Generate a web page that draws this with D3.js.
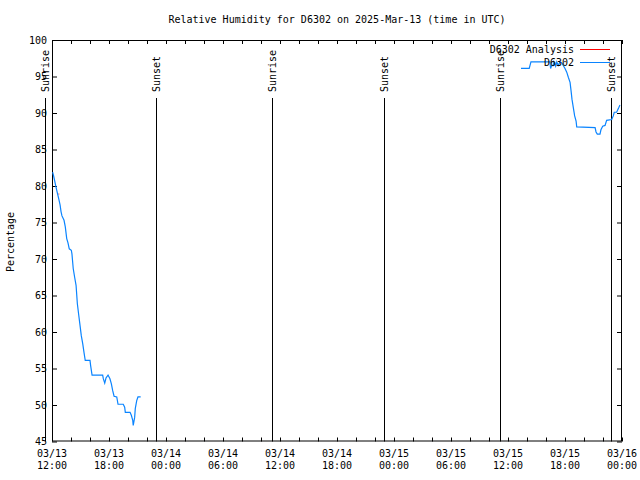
<!DOCTYPE html>
<html><head><meta charset="utf-8">
<script src="https://cdn.jsdelivr.net/npm/d3@7"></script>
<style>body{margin:0;background:#fff}svg{display:block}text{font-family:"DejaVu Sans Mono",monospace;font-size:10px;fill:#000}</style>
</head><body><svg id="c" width="640" height="480"></svg>
<script>
const titleText = "Relative Humidity for D6302 on 2025-Mar-13 (time in UTC)";
const yLabel = "Percentage";
const xDomain = ["2025-03-13T12:00Z", "2025-03-16T00:00Z"];
const yDomain = [45, 100];
const yTicks = [45,50,55,60,65,70,75,80,85,90,95,100];
const seriesNames = ["D6302 Analysis", "D6302"];
const seriesColors = ["#ff0000", "#0a84ff"];
// observed D6302 (null = gap)
const obsTimes = [
"03-13T12:04","03-13T12:11","03-13T12:23","03-13T12:30","03-13T12:42","03-13T12:51","03-13T12:57","03-13T13:03",
"03-13T13:16","03-13T13:24","03-13T13:33","03-13T13:41","03-13T13:49","03-13T14:02","03-13T14:06","03-13T14:14",
"03-13T14:23","03-13T14:32","03-13T14:40","03-13T14:49","03-13T14:57","03-13T15:05","03-13T15:14","03-13T15:22",
"03-13T15:30","03-13T16:00","03-13T16:04","03-13T16:13","03-13T17:20","03-13T17:24","03-13T17:33","03-13T17:41",
"03-13T17:54","03-13T18:06","03-13T18:15","03-13T18:23","03-13T18:32","03-13T18:49","03-13T18:57","03-13T19:30",
"03-13T19:39","03-13T19:43","03-13T20:13","03-13T20:21","03-13T20:30","03-13T20:33","03-13T20:42","03-13T20:46",
"03-13T20:55","03-13T21:03","03-13T21:20",
"03-14T12:00",
"03-15T13:22","03-15T14:14","03-15T14:25","03-15T16:25","03-15T16:29","03-15T16:36","03-15T16:46","03-15T16:50",
"03-15T17:01","03-15T17:08","03-15T17:17","03-15T17:28","03-15T17:39","03-15T17:49","03-15T18:00","03-15T18:11",
"03-15T18:21","03-15T18:32","03-15T18:38","03-15T18:44","03-15T18:52","03-15T19:01","03-15T19:10","03-15T19:14",
"03-15T21:10","03-15T21:16","03-15T21:24","03-15T21:41","03-15T21:47","03-15T21:58","03-15T22:13","03-15T22:23",
"03-15T22:55","03-15T23:05","03-15T23:11","03-15T23:26","03-15T23:37","03-15T23:47"];
const obsValues = [
81.9,81.3,80.1,79.4,78.3,77.4,76.5,75.9,
75.3,74.4,72.8,72.2,71.4,71.2,70.7,68.7,
67.5,66.4,63.9,62.3,60.9,59.5,58.4,57.2,
56.1,56.1,55.4,54.1,54.1,53.6,53.0,53.7,
54.1,53.6,52.9,52.0,51.2,51.1,50.1,50.1,
49.7,49.0,49.0,48.6,47.9,47.2,48.3,49.5,
50.6,51.1,51.1,
null,
96.1,96.1,97.0,97.0,96.1,96.5,96.5,97.0,
96.4,97.0,96.5,97.0,96.9,96.5,96.1,95.6,
94.9,94.2,93.1,91.9,90.8,89.6,88.9,88.1,
88.0,87.4,87.1,87.1,87.7,88.2,88.3,89.0,
89.1,89.6,90.1,90.1,90.6,91.1];
const anaTimes = ["03-13T12:41","03-13T12:46"];
const anaValues = [78.9, 78.9];
const sunTimes = ["03-13T11:16","03-13T22:57","03-14T11:10","03-14T22:57","03-15T11:10","03-15T22:50"];
const sunLabels = ["Sunrise","Sunset","Sunrise","Sunset","Sunrise","Sunset"];

const P = s => new Date("2025-" + s + "Z");
const svg = d3.select("#c");
const L = 52, R = 622, T = 40, B = 441.5;
const x = d3.scaleUtc().domain(xDomain.map(d => new Date(d))).range([L, R]);
const y = d3.scaleLinear().domain(yDomain).range([B, T]);

// title
svg.append("text").attr("x", (L+R)/2).attr("y", 23).attr("text-anchor","middle").text(titleText);
// y label
svg.append("text").attr("transform","translate(14,242) rotate(-90)").attr("text-anchor","middle").text(yLabel);

// axes (ticks inward)
const tickEvery2h = d3.utcHour.every(2);
const fmtDate = d3.utcFormat("%m/%d"), fmtTime = d3.utcFormat("%H:%M");
const gB = svg.append("g").attr("transform",`translate(0,${B})`)
  .call(d3.axisBottom(x).ticks(tickEvery2h).tickSizeInner(-4).tickSizeOuter(0).tickFormat(""));
const gT = svg.append("g").attr("transform",`translate(0,${T})`)
  .call(d3.axisTop(x).ticks(tickEvery2h).tickSizeInner(-4).tickSizeOuter(0).tickFormat(""));
const gL = svg.append("g").attr("transform",`translate(${L},0)`)
  .call(d3.axisLeft(y).tickValues(yTicks).tickSizeInner(-5).tickSizeOuter(0).tickPadding(6));
const gR = svg.append("g").attr("transform",`translate(${R},0)`)
  .call(d3.axisRight(y).tickValues(yTicks).tickSizeInner(-5).tickSizeOuter(0).tickFormat(""));
svg.selectAll(".domain").remove();
svg.selectAll(".tick line").attr("stroke","#000");
gL.selectAll(".tick text").attr("font-family",null).attr("font-size",null).attr("fill","#000").attr("x",-5);

// x labels two lines every 6h
const major = x.ticks(d3.utcHour.every(6));
const xl = svg.append("g");
major.forEach(d => {
  const t = xl.append("text").attr("x", x(d)).attr("text-anchor","middle");
  t.append("tspan").attr("x", x(d)).attr("y", 457).text(fmtDate(d));
  t.append("tspan").attr("x", x(d)).attr("y", 469).text(fmtTime(d));
});

// frame
svg.append("rect").attr("x",L+0.5).attr("y",T+0.5).attr("width",R-L-1).attr("height",B-T-1)
  .attr("fill","none").attr("stroke","#000");

// sunrise/sunset
sunTimes.forEach((s,i) => {
  const sx = Math.round(x(P(s))) + 0.5;
  svg.append("line").attr("x1",sx).attr("x2",sx).attr("y1",98).attr("y2",B).attr("stroke","#000");
  svg.append("text").attr("transform",`translate(${sx+3.5},92) rotate(-90)`).attr("text-anchor","start").text(sunLabels[i]);
});

// data
const obs = obsTimes.map((t,i) => ({t:P(t), v:obsValues[i]}));
const ana = anaTimes.map((t,i) => ({t:P(t), v:anaValues[i]}));
const line = d3.line().defined(d => d.v != null).x(d => x(d.t)).y(d => y(d.v));
svg.append("path").datum(ana).attr("d",line).attr("fill","none").attr("stroke",seriesColors[0]).attr("stroke-width",1);
svg.append("path").datum(obs).attr("d",line).attr("fill","none").attr("stroke",seriesColors[1]).attr("stroke-width",1.2);

// legend
seriesNames.forEach((n,i) => {
  const ly = 49.5 + i*13;
  svg.append("text").attr("x",574).attr("y",ly+3.5).attr("text-anchor","end").text(n);
  svg.append("line").attr("x1",580).attr("x2",610).attr("y1",ly).attr("y2",ly).attr("stroke",seriesColors[i]);
});
</script></body></html>
